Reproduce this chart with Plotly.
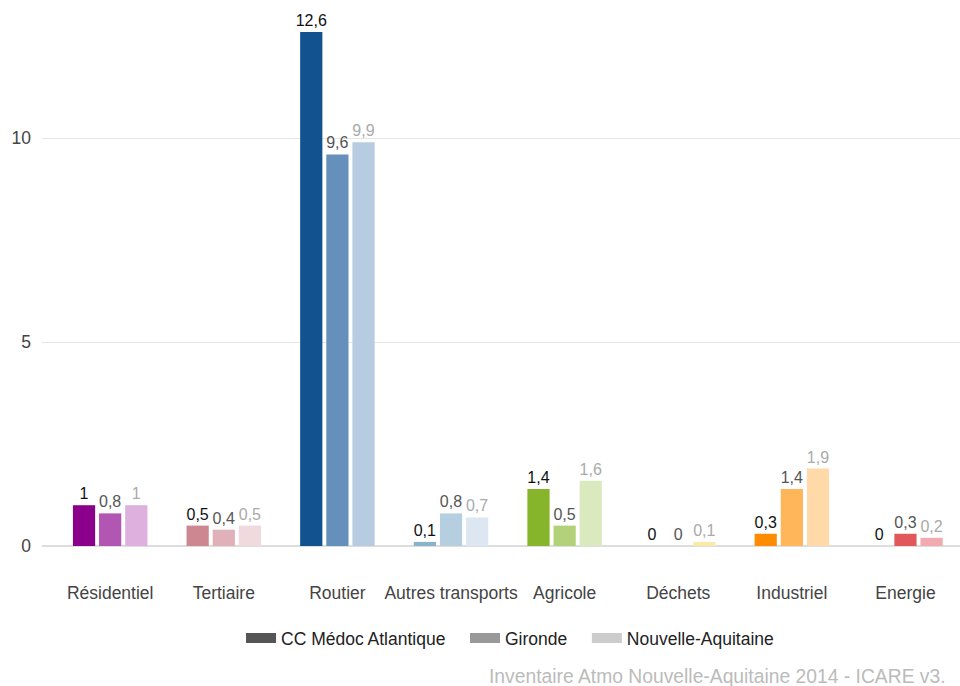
import plotly.graph_objects as go

# Emission shares by sector for three territories
categories = ["Résidentiel", "Tertiaire", "Routier", "Autres transports",
              "Agricole", "Déchets", "Industriel", "Energie"]
series_names = ["CC Médoc Atlantique", "Gironde", "Nouvelle-Aquitaine"]
medoc = [1.0, 0.5, 12.6, 0.1, 1.4, 0.0, 0.3, 0.0]
gironde = [0.8, 0.4, 9.6, 0.8, 0.5, 0.0, 1.4, 0.3]
nouvelle_aquitaine = [1.0, 0.5, 9.9, 0.7, 1.6, 0.1, 1.9, 0.2]

# One shade per sector and territory (dark -> light)
colors_medoc = ["#8b008b", "#cd8791", "#11528f", "#8cb2ca",
                "#86b42a", "#e8c400", "#ff8c00", "#c83232"]
colors_gironde = ["#b157b3", "#e0b1b8", "#6690bc", "#b5cfe0",
                  "#b2d178", "#f0d250", "#ffb55a", "#e0585c"]
colors_na = ["#ddb0dd", "#f0dade", "#b7cce1", "#dce7f1",
             "#dbeabe", "#faeaa8", "#ffdaa8", "#f0aab0"]

legend_colors = ["#555555", "#999999", "#cccccc"]
text_colors = ["#111111", "#555555", "#aaaaaa"]

values = [medoc, gironde, nouvelle_aquitaine]
bar_colors = [colors_medoc, colors_gironde, colors_na]


def fmt(v):
    s = f"{v:.1f}".rstrip("0").rstrip(".")
    return s.replace(".", ",")


fig = go.Figure()
for name, vals, cols, tcol in zip(series_names, values, bar_colors, text_colors):
    fig.add_trace(go.Bar(
        x=categories, y=vals, name=name, showlegend=False,
        marker=dict(color=cols, line=dict(width=0)),
        text=[fmt(v) for v in vals], textposition="outside",
        textfont=dict(family="Liberation Sans, Arial", size=16, color=tcol),
        constraintext="none", cliponaxis=False,
        hovertemplate="%{x}: %{y}<extra>" + name + "</extra>",
    ))

# Grey legend swatches (trailing spaces widen the gap between entries)
for name, col in zip(series_names, legend_colors):
    fig.add_trace(go.Scatter(
        x=[None], y=[None], mode="lines", name=name + "\u00a0\u00a0\u00a0",
        line=dict(color=col, width=15), hoverinfo="skip",
    ))

fig.update_layout(
    width=960, height=686,
    margin=dict(l=42, r=0, t=10, b=140),
    paper_bgcolor="white", plot_bgcolor="white",
    barmode="group", bargap=0.31, bargroupgap=0.15,
    separators=", ",
    font=dict(family="Liberation Sans, Arial", size=17, color="#444444"),
    showlegend=True,
    legend=dict(orientation="h", x=0.518, xanchor="center", y=-0.172,
                yanchor="middle", font=dict(size=17.5, color="#222222"),
                itemwidth=30, tracegroupgap=0),
    xaxis=dict(range=[-0.6, 7.48], showgrid=False, showline=False,
               ticks="", tickfont=dict(size=17.5, color="#444444"),
               ticklabelstandoff=34, zeroline=False),
    yaxis=dict(range=[0, 13.14], tickvals=[0, 5, 10], ticktext=["0", "5", "10"],
               showgrid=True, gridcolor="#e6e6e6", gridwidth=1,
               zeroline=True, zerolinecolor="#dddddd", zerolinewidth=2,
               showline=False, ticks="", ticklen=0, ticklabelstandoff=10,
               tickfont=dict(size=17.5, color="#444444")),
    annotations=[dict(
        text="Inventaire Atmo Nouvelle-Aquitaine 2014 - ICARE v3.",
        xref="paper", yref="paper", x=(487 - 42) / 918, y=-0.243,
        xanchor="left", yanchor="middle", showarrow=False,
        font=dict(size=19.3, color="#bbbbbb"),
    )],
)

fig.write_html("out.html")
